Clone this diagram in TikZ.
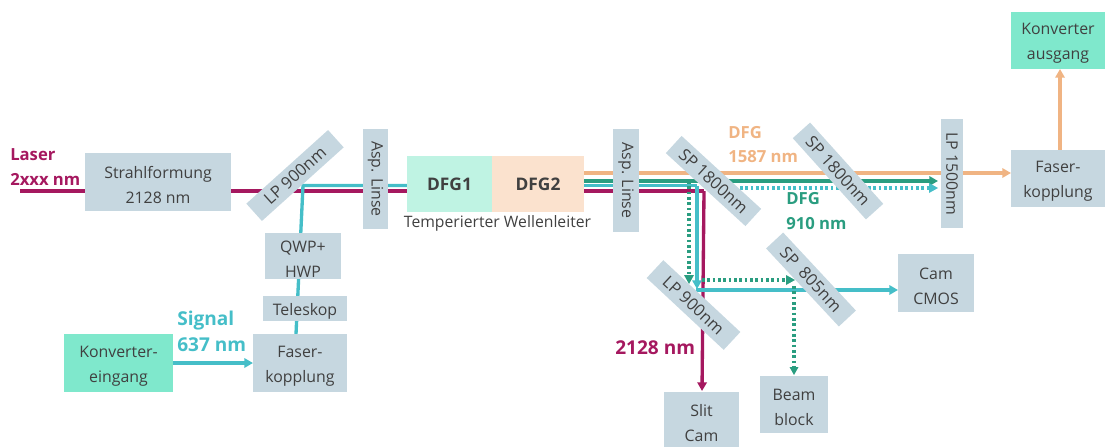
\documentclass[tikz,border=0pt]{standalone}
\usepackage{fontspec}
\setmainfont{Open Sans}
\usetikzlibrary{arrows.meta}
\definecolor{boxc}{HTML}{C6D7E0}
\definecolor{mintc}{HTML}{7FE8CC}
\definecolor{dfgone}{HTML}{BFF3E3}
\definecolor{dfgtwo}{HTML}{FBE2CE}
\definecolor{magc}{HTML}{A5185F}
\definecolor{tealc}{HTML}{45BEC8}
\definecolor{greenc}{HTML}{2A9D80}
\definecolor{orangec}{HTML}{F0B483}
\definecolor{textc}{HTML}{404040}
\tikzset{
  x=0.75pt,y=-0.75pt,
  box/.style={fill=boxc,inner sep=0pt,text=textc,align=center,font=\fontsize{11.9}{18.7}\selectfont},
  mint/.style={box,fill=mintc},
  filt/.style={box,minimum width=#1,minimum height=17.5pt,font=\fontsize{12.4}{18}\selectfont},
  dfgbox/.style={box,minimum height=42pt,font=\fontsize{13}{18}\selectfont\bfseries},
  lab/.style={inner sep=0pt,align=left,anchor=west,font=\fontsize{12.5}{18.6}\selectfont\bfseries},
  biglab/.style={lab,font=\fontsize{14.3}{20}\selectfont\bfseries},
  beam/.style={line width=2.5pt},
  tip/.style={-{Triangle[length=6.5pt,width=7pt]}},
  dots/.style={line width=2.3pt,dash pattern=on 2pt off 2pt},
}
\newcommand{\bx}[7][box]{\node[#1,minimum width=#4*0.75pt-#3*0.75pt,minimum height=#6*0.75pt-#5*0.75pt] (#2) at ({(#3+#4)/2},{(#5+#6)/2}) {\rule{0pt}{13pt}#7};}
\begin{document}
\begin{tikzpicture}
\useasboundingbox (0,0) rectangle (1105,446);
% free ends and corners of the beams
\coordinate (laserstart) at (20,191);
\coordinate (magA) at (231,191);
\coordinate (magB) at (407,191);
\coordinate (magC) at (584,191);
\coordinate (magD) at (704,191);
\coordinate (magE) at (702,391);
\coordinate (telA) at (296,334);
\coordinate (telB) at (303,185.5);
\coordinate (telC) at (407,185.5);
\coordinate (telD) at (584,185.5);
\coordinate (telE) at (697,185.5);
\coordinate (telF) at (697,289);
\coordinate (telG) at (696,290);
\coordinate (telH) at (898,290);
\coordinate (greA) at (584,181);
\coordinate (greB) at (938,181);
\coordinate (greC) at (689,181);
\coordinate (greD) at (689,278);
\coordinate (greE) at (702,280);
\coordinate (greF) at (788,280);
\coordinate (greG) at (794,286);
\coordinate (greH) at (794,370);
\coordinate (dotA) at (740,188);
\coordinate (dotB) at (932,188);
\coordinate (oraA) at (584,173);
\coordinate (oraC) at (1011,173);
\coordinate (oraD) at (1060,150);
\coordinate (oraE) at (1060,69);
\coordinate (konA) at (173,363);
\coordinate (konB) at (253,363);
% beams (under the boxes)
\draw[beam,magc] (laserstart) -- (magA) -- (magB);
\draw[beam,magc] (magC) -- (magD);
\draw[beam,magc,tip] (magD) -- (magE);
\draw[beam,tealc] (telA) -- (telB) -- (telC);
\draw[beam,tealc] (telD) -- (telE);
\draw[beam,tealc,tip] (telE) -- (telF);
\draw[beam,tealc,tip] (telG) -- (telH);
\draw[beam,greenc,tip] (greA) -- (greB);
\draw[dots,greenc] (greC) -- (greD);
\fill[greenc] (689,284) ++(-5,-9) -- ++(10,0) -- ++(-5,9) -- cycle;
\draw[dots,greenc] (greE) -- (greF);
\fill[greenc] (795,280) ++(-9,-5) -- ++(0,10) -- ++(9,-5) -- cycle;
\draw[dots,greenc] (greG) -- (greH);
\fill[greenc] (794,375) ++(-4.5,-8) -- ++(9,0) -- ++(-4.5,8) -- cycle;
\draw[dots,tealc] (dotA) -- (dotB);
\fill[tealc] (938,188) ++(-9,-5) -- ++(0,10) -- ++(9,-5) -- cycle;
\draw[beam,orangec,tip] (oraA) -- (oraC);
\draw[beam,orangec,tip] (oraD) -- (oraE);
\draw[beam,tealc,tip] (konA) -- (konB);
% boxes
\bx{strahl}{85}{231}{153}{211}{Strahlformung\\2128 nm}
\node[filt=82.5pt,rotate=42] (lpa) at (295,175.5) {LP 900nm};
\node[filt=75pt,minimum height=18.8pt,rotate=-90,font=\fontsize{11.9}{18}\selectfont] (aspa) at (375.5,179) {Asp. Linse};
\node[dfgbox,fill=dfgone,minimum width=63.75pt] (dfga) at (449.5,184) {DFG1};
\node[dfgbox,fill=dfgtwo,minimum width=69pt] (dfgb) at (538,184) {DFG2};
\node[filt=77pt,minimum height=19.5pt,rotate=-90,font=\fontsize{11.9}{18}\selectfont] (aspb) at (626,180.5) {Asp. Linse};
\node[filt=81pt,rotate=-42.5] (spa) at (713.5,181) {SP 1800nm};
\node[filt=82pt,rotate=-48] (spb) at (838,171) {SP 1800nm};
\node[filt=82pt,minimum height=16.5pt,rotate=-90,font=\fontsize{11.9}{18}\selectfont] (lpb) at (952,173.5) {LP 1500nm};
\bx{fasr}{1011}{1105}{150}{207}{Faser-\\kopplung}
\bx[mint]{kona}{1011}{1105}{12}{69}{Konverter\\ausgang}
\bx{cam}{898}{974}{254}{312}{Cam\\CMOS}
\node[filt=80pt,rotate=-47] (spc) at (811,279.5) {SP\ \ 805nm};
\node[filt=79pt,minimum height=18.3pt,rotate=-43] (lpc) at (693.5,305) {LP 900nm};
\bx{beamb}{760}{828}{376}{433}{Beam\\block}
\bx{slit}{664}{739}{392}{449}{Slit\\Cam}
\bx{qwp}{265}{341}{233}{279}{QWP+\\HWP}
\bx{tele}{263}{347}{296}{321}{Teleskop}
\bx{fasl}{253}{347}{334}{392}{Faser-\\kopplung}
\bx[mint]{kone}{64}{173}{334}{392}{Konverter-\\eingang}
% labels
\node[lab,text=magc] (laserlab) at (10,167) {Laser\\2xxx nm};
\node[biglab,text=tealc] (siglab) at (177,331.5) {Signal\\637 nm};
\node[biglab,text=magc] (wavlab) at (615,348) {2128 nm};
\node[lab,text=orangec] (oralab) at (728,144.5) {DFG\\1587 nm};
\node[lab,text=greenc] (grelab) at (786,211) {DFG\\910 nm};
\node[inner sep=0pt,text=textc,font=\fontsize{11.8}{17}\selectfont] (wglab) at (497.5,223) {Temperierter Wellenleiter};
\end{tikzpicture}
\end{document}
